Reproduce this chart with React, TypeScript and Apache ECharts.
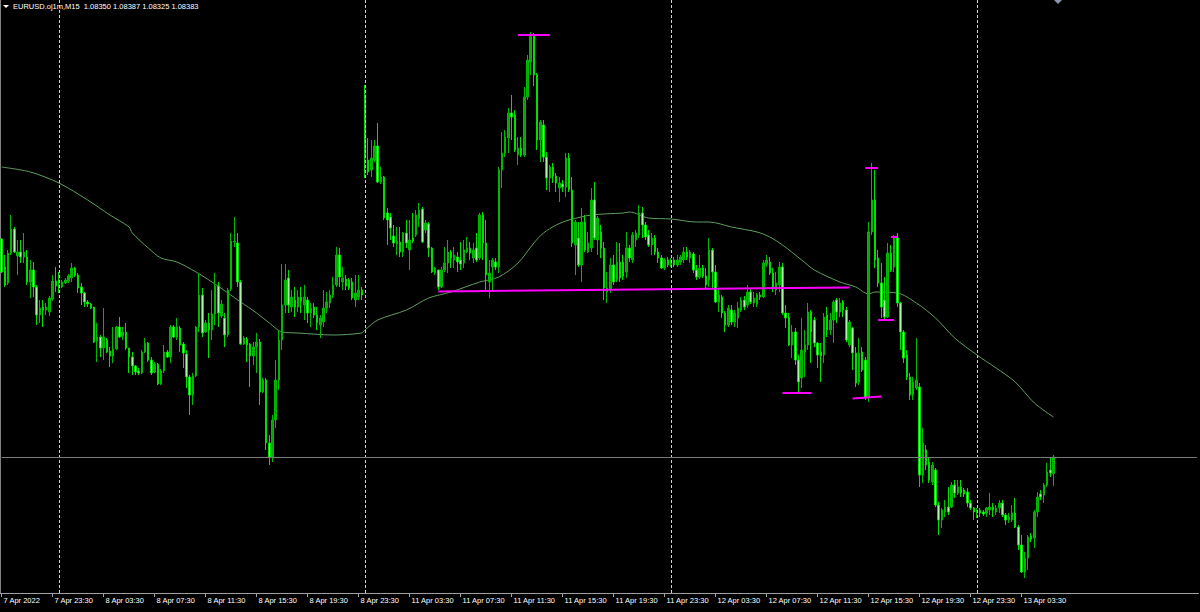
import { useEffect, useRef } from "react";
import * as echarts from "echarts";

// ---- bars (M15), index 0 = 7 Apr 19:30 ... index 330 = 13 Apr 06:00 ----
const opens = [
1.08819,1.08763,1.08731,1.08791,1.08839,1.08785,1.08793,1.08783,1.08783,1.08733,
1.08757,1.08723,1.08667,1.08683,1.08677,1.08673,1.08699,1.08735,1.08727,1.08723,
1.08731,1.08735,1.08741,1.08761,1.08747,1.08723,1.08711,1.08693,1.08689,1.08683,
1.08615,1.08623,1.08601,1.08617,1.08595,1.08585,1.08599,1.08643,1.08625,1.08633,
1.08601,1.08583,1.08565,1.08555,1.08551,1.08593,1.08611,1.08577,1.08553,1.08569,
1.08529,1.08555,1.08593,1.08583,1.08643,1.08623,1.08641,1.08609,1.08589,1.08543,
1.08507,1.08545,1.08643,1.08707,1.08633,1.08651,1.08637,1.08669,1.08725,1.08665,
1.08661,1.08627,1.08719,1.08813,1.08811,1.08733,1.08609,1.08619,1.08609,1.08585,
1.08603,1.08613,1.08513,1.08537,1.08411,1.08383,1.08457,1.08537,1.08617,1.08687,
1.08741,1.08683,1.08697,1.08683,1.08703,1.08687,1.08697,1.08671,1.08683,1.08667,
1.08647,1.08653,1.08681,1.08691,1.08707,1.08727,1.08787,1.08733,1.08739,1.08737,
1.08733,1.08697,1.08703,1.08717,1.09107,1.08977,1.08957,1.08977,1.09005,1.08933,
1.08943,1.08871,1.08863,1.08825,1.08809,1.08813,1.08793,1.08831,1.08797,1.08821,
1.08827,1.08859,1.08879,1.08837,1.08849,1.08801,1.08751,1.08757,1.08723,1.08757,
1.08771,1.08793,1.08777,1.08783,1.08777,1.08771,1.08793,1.08801,1.08781,1.08801,
1.08781,1.08867,1.08811,1.08733,1.08763,1.08773,1.08763,1.08957,1.08991,1.09021,
1.09071,1.09067,1.08987,1.09001,1.08987,1.09103,1.09173,1.09225,1.09147,1.09017,
1.09047,1.08983,1.08941,1.08963,1.08945,1.08921,1.08929,1.08923,1.08981,1.08917,
1.08807,1.08821,1.08767,1.08853,1.08793,1.08801,1.08897,1.08817,1.08833,1.08801,
1.08713,1.08717,1.08767,1.08737,1.08773,1.08773,1.08753,1.08801,1.08777,1.08817,
1.08827,1.08871,1.08847,1.08827,1.08807,1.08821,1.08793,1.08781,1.08761,1.08777,
1.08767,1.08777,1.08767,1.08773,1.08777,1.08793,1.08781,1.08789,1.08757,1.08743,
1.08761,1.08745,1.08737,1.08797,1.08753,1.08693,1.08703,1.08671,1.08647,1.08677,
1.08653,1.08661,1.08677,1.08697,1.08687,1.08713,1.08691,1.08689,1.08707,1.08703,
1.08769,1.08773,1.08751,1.08717,1.08727,1.08763,1.08671,1.08661,1.08607,1.08633,
1.08577,1.08541,1.08593,1.08607,1.08673,1.08657,1.08611,1.08593,1.08587,1.08667,
1.08637,1.08657,1.08697,1.08673,1.08693,1.08677,1.08607,1.08641,1.08591,1.08533,
1.08593,1.08577,1.08503,1.08833,1.08897,1.08781,1.08731,1.08697,1.08663,1.08791,
1.08763,1.08821,1.08691,1.08633,1.08587,1.08543,1.08507,1.08521,1.08523,1.08347,
1.08397,1.08373,1.08333,1.08357,1.08287,1.08257,1.08273,1.08283,1.08283,1.08327,
1.08311,1.08323,1.08317,1.08313,1.08291,1.08281,1.08271,1.08277,1.08273,1.08271,
1.08277,1.08283,1.08273,1.08281,1.08291,1.08267,1.08257,1.08257,1.08271,1.08243,
1.08207,1.08153,1.08181,1.08225,1.08221,1.08273,1.08309,1.08307,1.08327,1.08357,
1.08350
];
const closes = [
1.08753,1.08727,1.08791,1.08839,1.08793,1.08793,1.08783,1.08793,1.08733,1.08757,
1.08723,1.08667,1.08681,1.08677,1.08683,1.08701,1.08735,1.08725,1.08723,1.08733,
1.08737,1.08745,1.08761,1.08747,1.08721,1.08711,1.08693,1.08689,1.08681,1.08613,
1.08623,1.08601,1.08623,1.08593,1.08585,1.08599,1.08643,1.08623,1.08633,1.08601,
1.08583,1.08565,1.08553,1.08551,1.08593,1.08611,1.08577,1.08551,1.08569,1.08529,
1.08555,1.08593,1.08583,1.08643,1.08623,1.08643,1.08607,1.08591,1.08543,1.08507,
1.08545,1.08643,1.08707,1.08631,1.08651,1.08637,1.08669,1.08725,1.08671,1.08689,
1.08627,1.08717,1.08815,1.08815,1.08733,1.08609,1.08621,1.08607,1.08585,1.08603,
1.08613,1.08513,1.08537,1.08411,1.08383,1.08457,1.08537,1.08617,1.08687,1.08737,
1.08687,1.08703,1.08683,1.08703,1.08695,1.08703,1.08671,1.08681,1.08667,1.08651,
1.08661,1.08681,1.08693,1.08707,1.08727,1.08787,1.08743,1.08741,1.08725,1.08721,
1.08701,1.08711,1.08717,1.08707,1.08981,1.08953,1.08981,1.09005,1.08933,1.08943,
1.08861,1.08857,1.08841,1.08811,1.08815,1.08793,1.08831,1.08811,1.08817,1.08815,
1.08867,1.08877,1.08813,1.08851,1.08801,1.08753,1.08761,1.08723,1.08757,1.08771,
1.08793,1.08781,1.08787,1.08773,1.08769,1.08797,1.08801,1.08791,1.08797,1.08777,
1.08867,1.08811,1.08747,1.08751,1.08777,1.08763,1.08957,1.08991,1.09023,1.09071,
1.09063,1.08997,1.09001,1.08987,1.09103,1.09177,1.09225,1.09147,1.09017,1.09053,
1.08983,1.08941,1.08963,1.08945,1.08931,1.08931,1.08923,1.08981,1.08917,1.08811,
1.08853,1.08767,1.08853,1.08797,1.08811,1.08897,1.08821,1.08861,1.08801,1.08721,
1.08721,1.08767,1.08733,1.08773,1.08741,1.08745,1.08801,1.08781,1.08827,1.08831,
1.08871,1.08847,1.08823,1.08807,1.08821,1.08793,1.08781,1.08761,1.08777,1.08767,
1.08777,1.08767,1.08777,1.08783,1.08793,1.08783,1.08793,1.08757,1.08743,1.08761,
1.08745,1.08727,1.08797,1.08753,1.08693,1.08707,1.08671,1.08647,1.08681,1.08653,
1.08671,1.08681,1.08697,1.08683,1.08713,1.08693,1.08701,1.08707,1.08703,1.08771,
1.08777,1.08751,1.08721,1.08731,1.08763,1.08671,1.08661,1.08607,1.08633,1.08577,
1.08533,1.08597,1.08607,1.08673,1.08633,1.08611,1.08587,1.08585,1.08663,1.08637,
1.08657,1.08693,1.08673,1.08691,1.08677,1.08617,1.08653,1.08591,1.08531,1.08591,
1.08557,1.08503,1.08833,1.08897,1.08777,1.08731,1.08683,1.08663,1.08791,1.08757,
1.08821,1.08691,1.08633,1.08581,1.08543,1.08507,1.08533,1.08537,1.08347,1.08411,
1.08367,1.08337,1.08367,1.08287,1.08257,1.08277,1.08283,1.08273,1.08327,1.08311,
1.08323,1.08311,1.08309,1.08291,1.08281,1.08273,1.08277,1.08271,1.08269,1.08281,
1.08283,1.08277,1.08281,1.08291,1.08267,1.08257,1.08263,1.08271,1.08243,1.08207,
1.08153,1.08181,1.08223,1.08219,1.08273,1.08303,1.08303,1.08327,1.08353,1.08351,
1.08383
];
const lows = [
1.08751,1.08723,1.08727,1.08787,1.08791,1.08747,1.08771,1.08771,1.08727,1.08701,
1.08703,1.08647,1.08651,1.08643,1.08667,1.08665,1.08695,1.08713,1.08711,1.08721,
1.08729,1.08731,1.08733,1.08743,1.08711,1.08687,1.08683,1.08683,1.08679,1.08611,
1.08573,1.08583,1.08577,1.08591,1.08563,1.08571,1.08597,1.08621,1.08617,1.08597,
1.08551,1.08547,1.08547,1.08547,1.08549,1.08591,1.08573,1.08547,1.08551,1.08527,
1.08527,1.08551,1.08581,1.08571,1.08621,1.08617,1.08593,1.08561,1.08521,1.08467,
1.08487,1.08543,1.08633,1.08623,1.08631,1.08581,1.08617,1.08647,1.08643,1.08661,
1.08603,1.08623,1.08715,1.08803,1.08723,1.08607,1.08607,1.08573,1.08523,1.08567,
1.08551,1.08487,1.08511,1.08397,1.08367,1.08373,1.08441,1.08517,1.08597,1.08671,
1.08671,1.08673,1.08663,1.08673,1.08671,1.08657,1.08651,1.08643,1.08661,1.08637,
1.08621,1.08643,1.08671,1.08681,1.08701,1.08723,1.08723,1.08717,1.08717,1.08717,
1.08697,1.08683,1.08697,1.08697,1.08941,1.08947,1.08943,1.08973,1.08931,1.08929,
1.08857,1.08807,1.08817,1.08803,1.08787,1.08783,1.08783,1.08801,1.08757,1.08811,
1.08823,1.08843,1.08811,1.08831,1.08783,1.08751,1.08747,1.08717,1.08721,1.08753,
1.08751,1.08761,1.08761,1.08753,1.08757,1.08761,1.08791,1.08777,1.08771,1.08773,
1.08777,1.08777,1.08717,1.08701,1.08713,1.08757,1.08751,1.08921,1.08983,1.08991,
1.09017,1.08993,1.08967,1.08983,1.08983,1.09097,1.09147,1.09125,1.08997,1.08973,
1.08973,1.08917,1.08913,1.08931,1.08913,1.08893,1.08913,1.08903,1.08913,1.08803,
1.08747,1.08763,1.08733,1.08793,1.08791,1.08793,1.08817,1.08787,1.08781,1.08697,
1.08691,1.08711,1.08727,1.08733,1.08733,1.08737,1.08741,1.08773,1.08771,1.08803,
1.08821,1.08821,1.08817,1.08803,1.08787,1.08787,1.08771,1.08759,1.08757,1.08763,
1.08763,1.08763,1.08763,1.08767,1.08771,1.08777,1.08771,1.08751,1.08737,1.08739,
1.08741,1.08721,1.08723,1.08721,1.08691,1.08673,1.08661,1.08633,1.08643,1.08647,
1.08643,1.08641,1.08673,1.08677,1.08681,1.08689,1.08683,1.08683,1.08697,1.08701,
1.08763,1.08747,1.08713,1.08707,1.08713,1.08667,1.08641,1.08605,1.08581,1.08567,
1.08513,1.08521,1.08543,1.08597,1.08571,1.08603,1.08561,1.08533,1.08571,1.08623,
1.08627,1.08611,1.08651,1.08663,1.08663,1.08613,1.08603,1.08557,1.08523,1.08527,
1.08553,1.08497,1.08493,1.08827,1.08761,1.08723,1.08661,1.08657,1.08661,1.08753,
1.08753,1.08683,1.08597,1.08571,1.08537,1.08497,1.08497,1.08517,1.08323,1.08331,
1.08357,1.08331,1.08327,1.08283,1.08227,1.08241,1.08263,1.08267,1.08281,1.08301,
1.08307,1.08303,1.08303,1.08283,1.08277,1.08257,1.08261,1.08263,1.08265,1.08263,
1.08267,1.08263,1.08267,1.08271,1.08263,1.08247,1.08251,1.08253,1.08241,1.08197,
1.08151,1.08141,1.08157,1.08213,1.08201,1.08263,1.08297,1.08291,1.08323,1.08343,
1.08325
];
const highs = [
1.08821,1.08787,1.08797,1.08867,1.08843,1.08817,1.08817,1.08831,1.08797,1.08777,
1.08773,1.08727,1.08697,1.08697,1.08691,1.08705,1.08747,1.08763,1.08753,1.08737,
1.08741,1.08749,1.08771,1.08763,1.08751,1.08731,1.08713,1.08697,1.08691,1.08683,
1.08651,1.08627,1.08681,1.08621,1.08603,1.08643,1.08645,1.08663,1.08643,1.08651,
1.08601,1.08593,1.08567,1.08561,1.08597,1.08621,1.08613,1.08583,1.08573,1.08571,
1.08559,1.08607,1.08597,1.08647,1.08647,1.08661,1.08645,1.08613,1.08597,1.08547,
1.08551,1.08645,1.08751,1.08721,1.08657,1.08671,1.08717,1.08751,1.08733,1.08697,
1.08671,1.08721,1.08831,1.08863,1.08831,1.08737,1.08625,1.08623,1.08611,1.08613,
1.08631,1.08619,1.08541,1.08541,1.08427,1.08467,1.08577,1.08637,1.08769,1.08769,
1.08757,1.08717,1.08723,1.08717,1.08723,1.08727,1.08703,1.08691,1.08691,1.08683,
1.08667,1.08717,1.08713,1.08717,1.08743,1.08803,1.08801,1.08763,1.08747,1.08741,
1.08741,1.08747,1.08747,1.08723,1.09127,1.09021,1.09017,1.09017,1.09051,1.08963,
1.08945,1.08881,1.08871,1.08847,1.08843,1.08843,1.08833,1.08857,1.08857,1.08871,
1.08877,1.08891,1.08883,1.08857,1.08853,1.08803,1.08763,1.08757,1.08763,1.08803,
1.08817,1.08797,1.08803,1.08793,1.08813,1.08817,1.08823,1.08813,1.08811,1.08831,
1.08871,1.08873,1.08857,1.08777,1.08781,1.08781,1.08963,1.09033,1.09037,1.09081,
1.09107,1.09077,1.09023,1.09023,1.09123,1.09187,1.09233,1.09231,1.09151,1.09057,
1.09057,1.08993,1.08967,1.08971,1.08951,1.08943,1.08937,1.08991,1.08991,1.08943,
1.08857,1.08853,1.08881,1.08867,1.08833,1.08921,1.08933,1.08865,1.08847,1.08813,
1.08753,1.08781,1.08787,1.08813,1.08811,1.08787,1.08833,1.08807,1.08833,1.08837,
1.08887,1.08883,1.08853,1.08837,1.08831,1.08827,1.08801,1.08787,1.08781,1.08783,
1.08781,1.08783,1.08787,1.08787,1.08803,1.08803,1.08797,1.08793,1.08767,1.08787,
1.08767,1.08761,1.08821,1.08801,1.08767,1.08721,1.08707,1.08675,1.08687,1.08687,
1.08677,1.08693,1.08703,1.08705,1.08727,1.08721,1.08713,1.08711,1.08713,1.08777,
1.08787,1.08783,1.08761,1.08753,1.08773,1.08771,1.08687,1.08671,1.08647,1.08641,
1.08587,1.08661,1.08637,1.08691,1.08677,1.08663,1.08613,1.08611,1.08671,1.08683,
1.08671,1.08697,1.08701,1.08701,1.08697,1.08683,1.08657,1.08643,1.08603,1.08621,
1.08603,1.08583,1.08853,1.08971,1.08957,1.08797,1.08771,1.08743,1.08811,1.08807,
1.08827,1.08831,1.08693,1.08637,1.08597,1.08551,1.08543,1.08621,1.08531,1.08441,
1.08407,1.08383,1.08373,1.08361,1.08293,1.08281,1.08297,1.08323,1.08333,1.08337,
1.08337,1.08337,1.08321,1.08321,1.08297,1.08283,1.08281,1.08281,1.08277,1.08283,
1.08311,1.08291,1.08287,1.08297,1.08297,1.08271,1.08271,1.08287,1.08301,1.08247,
1.08227,1.08193,1.08227,1.08231,1.08277,1.08313,1.08317,1.08331,1.08371,1.08383,
1.08387
];

// ---- moving average, read at key bars ----
const maIndex = [0,9,18,27,34,40,41,46,50,55,61,66,71,75,80,84,88,93,104,113,114,118,127,134,141,150,156,162,167,170,174,178,185,195,197,203,210,218,222,229,237,241,245,251,255,263,268,272,274,281,287,293,299,306,312,318,324,330];
const maValue = [1.08963,1.08953,1.08931,1.08897,1.08867,1.08843,1.08831,1.08801,1.08781,1.08773,1.08753,1.08733,1.08711,1.08693,1.08671,1.08651,1.08633,1.08631,1.08627,1.08631,1.08637,1.08657,1.08677,1.08701,1.08713,1.08733,1.08743,1.08771,1.08811,1.08831,1.08847,1.08857,1.08867,1.08871,1.08873,1.08861,1.08859,1.08853,1.08853,1.08843,1.08833,1.08823,1.08807,1.08777,1.08757,1.08733,1.08723,1.08709,1.08713,1.08711,1.08691,1.08661,1.08621,1.08587,1.08561,1.08533,1.08491,1.08463];

// ---- time axis ----
const tickLabels = ["7 Apr 2022","7 Apr 23:30","8 Apr 03:30","8 Apr 07:30","8 Apr 11:30","8 Apr 15:30","8 Apr 19:30","8 Apr 23:30","11 Apr 03:30","11 Apr 07:30","11 Apr 11:30","11 Apr 15:30","11 Apr 19:30","11 Apr 23:30","12 Apr 03:30","12 Apr 07:30","12 Apr 11:30","12 Apr 15:30","12 Apr 19:30","12 Apr 23:30","13 Apr 03:30"];
const tickEvery = 16;
const daySeparators = [18, 114, 210, 306];
const totalSlots = 376;

// ---- drawn objects ----
const bidPrice = 1.08383;
const pinkLines = [
  [[162, 1.09228], [172, 1.09228]],
  [[137, 1.08714], [266, 1.08722]],
  [[245, 1.08512], [254, 1.08512]],
  [[267, 1.08500], [276, 1.08504]],
  [[271, 1.08962], [275, 1.08962]],
  [[279, 1.08824], [281, 1.08824]],
  [[275, 1.08657], [280, 1.08657]],
];
const yMin = 1.08111;
const yMax = 1.09297;

export default function App() {
  const ref = useRef<HTMLDivElement>(null);
  useEffect(() => {
    document.body.style.margin = "0";
    document.body.style.background = "#000";
    const chart = echarts.init(ref.current!, null, { renderer: "svg" });
    const categories = Array.from({ length: totalSlots }, (_, i) => "b" + i);
    const candles = opens.map((o, i) => [o, closes[i], lows[i], highs[i]]);
    const ma = maIndex.map((x, k) => [x, maValue[k]]);
    const showTick = (index: number) => index % tickEvery === 0 && index / tickEvery < tickLabels.length;
    const font = "Liberation Sans";

    const sepLines: any[] = daySeparators.map((d) => ({
      xAxis: d,
      lineStyle: { color: "#d0d0d0", type: [3, 2], width: 1 },
    }));

    const drawnLines: any[] = [
      [
        { coord: [0, bidPrice], lineStyle: { color: "#7a7a7a", type: "solid", width: 1 } },
        { coord: [totalSlots - 1, bidPrice] },
      ],
      ...pinkLines.map(([a, b]) => [
        { coord: a, lineStyle: { color: "#ff00ff", type: "solid", width: 2 } },
        { coord: b },
      ]),
    ];

    chart.setOption({
      animation: false,
      backgroundColor: "#000000",
      grid: { left: 0, right: 1.5, top: 0, bottom: 19, containLabel: false },
      xAxis: {
        type: "category",
        data: categories,
        boundaryGap: true,
        axisLine: { show: true, lineStyle: { color: "#a0a0a0", width: 1 } },
        axisTick: { show: true, interval: showTick, alignWithLabel: true, length: 4, lineStyle: { color: "#a0a0a0" } },
        axisLabel: {
          show: true,
          interval: showTick,
          formatter: (_v: string, index: number) => (showTick(index) ? tickLabels[index / tickEvery] : ""),
          color: "#ffffff",
          fontSize: 7.5,
          fontFamily: font,
          align: "left",
          margin: 3,
          padding: [0, 0, 0, 2],
        },
        splitLine: { show: false },
      },
      yAxis: {
        type: "value",
        min: yMin,
        max: yMax,
        show: false,
        splitLine: { show: false },
      },
      graphic: [
        { type: "polygon", shape: { points: [[3, 5], [9, 5], [6, 8]] }, style: { fill: "#ffffff" } },
        {
          type: "text",
          x: 13,
          y: 6.5,
          style: {
            text: "EURUSD.oj1m,M15  1.08350 1.08387 1.08325 1.08383",
            fill: "#ffffff",
            fontSize: 7.5,
            fontFamily: font,
            verticalAlign: "middle",
          },
        },
        { type: "polygon", shape: { points: [[1054, 0], [1062, 0], [1058, 4]] }, style: { fill: "#8a96a8" } },
        { type: "line", shape: { x1: 0.5, y1: 0, x2: 0.5, y2: 593 }, style: { stroke: "#808080", lineWidth: 1 } },
      ],
      series: [
        {
          type: "line",
          data: ma,
          showSymbol: false,
          smooth: 0.3,
          z: 1,
          lineStyle: { color: "#5f9f5f", width: 1 },
          silent: true,
          markLine: {
            silent: true,
            symbol: ["none", "none"],
            label: { show: false },
            data: sepLines,
          },
        },
        {
          type: "candlestick",
          data: candles,
          barWidth: 2,
          z: 2,
          itemStyle: {
            color: "#00a800",
            borderColor: "#00b800",
            color0: "#a8f8a8",
            borderColor0: "#00e000",
            borderWidth: 1,
          },
          markLine: {
            silent: true,
            symbol: ["none", "none"],
            label: { show: false },
            data: drawnLines,
          },
        },
      ],
    });
    return () => chart.dispose();
  }, []);
  return <div ref={ref} style={{ width: 1200, height: 612, background: "#000" }} />;
}
